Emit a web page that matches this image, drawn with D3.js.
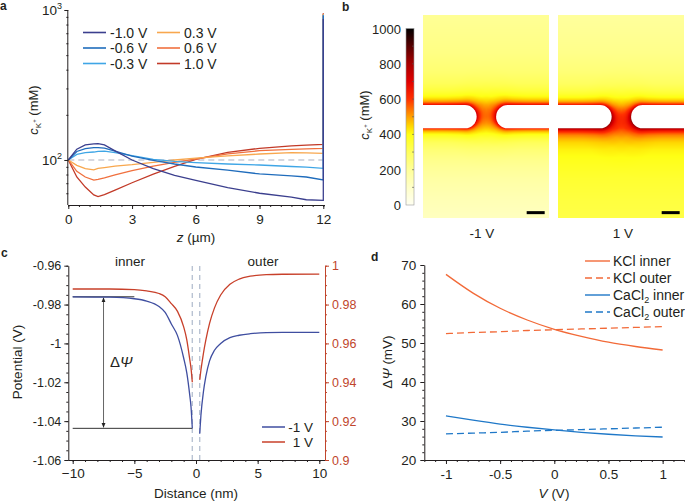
<!DOCTYPE html>
<html><head><meta charset="utf-8">
<script src="https://cdn.jsdelivr.net/npm/d3@7"></script>
<style>body{margin:0;background:#fff} svg{font-family:"Liberation Sans",Arial,sans-serif}</style>
</head><body><svg id="fig" width="685" height="501"></svg>
<script>
// ---------------- DATA ----------------
// Panel a: c_K+ (mM) along z (µm)
const voltagesA = ["-1.0 V","-0.6 V","-0.3 V","0.3 V","0.6 V","1.0 V"];
const zA = [0,0.4,0.8,1.2,1.4,1.7,2.2,3,4,5,6,7.5,9,10.5,11.2,12];
const cNeg10 = [100,118,126,128,128.5,126,115,100,87.5,79,73,65.5,60,56.6,54.3,53.8];
const cNeg06 = [100,114,119,121,121,120,114.5,106,99.5,94,89.8,85.6,80.7,78.4,77,73.6];
const cNeg03 = [100,109,112,113,114,114.5,112,107,101,98,96,94,92.6,90.5,89.5,88];
const cPos03 = [100,92,87.5,86,88,89,91,93,96.5,100,103,106.4,109.6,111.8,111.5,110.8];
const cPos06 = [100,84,77,73.4,74.3,76,79.5,85,91,96.5,101.5,109.8,115.3,117.6,118.5,119.6];
const cPos10 = [100,77,66,58.5,57,58.8,63,70.5,80.5,90.8,101,112.3,119.6,124.2,125.5,127];
const spikeTopA = [870,920,930,940,945,950]; // value at z = 12 wall
const seriesA = [cNeg10,cNeg06,cNeg03,cPos03,cPos06,cPos10];
const refLineA = 100;

// Panel b: concentration field (mM) near the pore
const panelLabelsB = ["-1 V","1 V"];
const colorbarTicks = [0,200,400,600,800,1000];
const bgAboveDist = [0,2,5,10,15,25];          // nm from upper membrane surface
const bgAbove = [[330,315,290,255,232,205],[320,305,280,245,222,192]];
const bgBelowDist = [0,3,8,14,20,25];          // nm from lower membrane surface
const bgBelow = [[300,270,220,175,140,118],[410,400,385,360,340,330]];
const excessDist = [0,0.5,1,1.5,2,3,4,6,9,14]; // nm from a membrane piece
const excessFrac = [1,0.72,0.52,0.4,0.31,0.2,0.13,0.06,0.02,0];
const excessAbove = [345,335];
const excessBelow = [325,385];
const poreDist = [0,2,4,6,9,13];               // nm from pore centre
const poreExtra = [80,70,45,20,5,0];

// Panel c: potential profiles
const legendC = ["-1 V","1 V"];
const xInner = [-10,-7,-5,-4,-3,-2.5,-2,-1.5,-1,-0.75,-0.5,-0.4,-0.3];
const negInner = [-0.9760,-0.9762,-0.9770,-0.9782,-0.9810,-0.9840,-0.9900,-0.9960,-1.0075,-1.0150,-1.0270,-1.0330,-1.0437];
const posInner = [0.9880,0.9880,0.9877,0.9870,0.9857,0.9840,0.9805,0.9765,0.9685,0.9620,0.9515,0.9470,0.9400];
const xOuter = [0.3,0.4,0.6,0.8,1.1,1.5,2,2.75,3.5,4.4,5.7,7,10];
const negOuter = [-1.0465,-1.0370,-1.0250,-1.0170,-1.0090,-1.0035,-1.0000,-0.9970,-0.9958,-0.9950,-0.9944,-0.9943,-0.9943];
const posOuter = [0.9412,0.9463,0.9548,0.9618,0.9703,0.9783,0.9849,0.9904,0.9931,0.9946,0.9954,0.9956,0.9957];
const poreWalls = [-0.3,0.3];
const deltaPsiTop = -0.976, deltaPsiBottom = -1.0437;

// Panel d: ΔΨ (mV) vs V
const vD = [-1,-0.75,-0.5,-0.25,0,0.25,0.5,0.75,1];
const kclInner = [67.6,62.8,58.9,55.9,53.5,51.7,50.2,49.1,48.2];
const kclOuter = [52.4,52.7,52.9,53.2,53.4,53.6,53.8,54.0,54.2];
const caInner = [31.3,30.2,29.2,28.4,27.7,27.1,26.6,26.2,25.9];
const caOuter = [26.7,26.9,27.1,27.4,27.6,27.8,28.0,28.2,28.4];

// ---------------- DRAW ----------------
const svg = d3.select("#fig");
const INK = "#231f20";
function styleAxis(g, color, fs){
  g.select(".domain").attr("stroke", color).attr("stroke-width",1);
  g.selectAll(".tick line").attr("stroke", color).attr("stroke-width",1);
  g.selectAll(".tick text").attr("fill", color).attr("font-size", fs).attr("font-family",'"Liberation Sans",Arial,sans-serif');
}
function minor(g, axisFn, scale, vals, size){
  const a = axisFn(scale).tickValues(vals).tickSize(size).tickFormat("");
  const m = svg.append("g").attr("transform", g.attr("transform")).call(a);
  m.select(".domain").remove();
  m.selectAll("line").attr("stroke", g.attr("data-c")||INK);
  return m;
}
function label(t, x, y, opts={}){
  return svg.append("text").attr("x",x).attr("y",y).attr("font-size",opts.fs||13)
    .attr("fill",opts.fill||INK).attr("text-anchor",opts.anchor||"start")
    .attr("font-weight",opts.fw||"normal").text(t);
}
// panel letters
label("a",0,10,{fw:"bold",fs:12});
label("b",342,11,{fw:"bold",fs:12});
label("c",1,257,{fw:"bold",fs:12});
label("d",371,261,{fw:"bold",fs:12});

// ===== Panel a =====
const xA = d3.scaleLinear([0,12],[68.3,323.3]);
const yA = d3.scaleLog([50.1,1000],[205,10]);
const colorsA = ["#3b3f8e","#1f6cbc","#3fa6e6","#f8a74e","#f0703e","#c23a28"];

svg.append("line").attr("x1",xA(0)).attr("x2",xA(12)).attr("y1",yA(refLineA)).attr("y2",yA(refLineA))
  .attr("stroke","#c9ccd6").attr("stroke-width",1.6).attr("stroke-dasharray","6,4");

const lineA = d3.line().x(d=>xA(d[0])).y(d=>yA(d[1]));
for (let k = seriesA.length-1; k >= 0; k--) {
  const pts = zA.map((z,i)=>[z, seriesA[k][i]]);
  pts.push([12, spikeTopA[k]]);
  svg.append("path").attr("d", lineA(pts)).attr("fill","none").attr("stroke",colorsA[k]).attr("stroke-width",1.3);
}
const gxA = svg.append("g").attr("transform","translate(0,205)")
  .call(d3.axisBottom(xA).tickValues([0,3,6,9,12]).tickSize(4).tickSizeOuter(0).tickPadding(5));
styleAxis(gxA, INK, 13.5);
gxA.select(".domain").attr("d","M68.3,0.5H325");
minor(gxA, d3.axisBottom, xA, d3.range(0,12.01,0.5), 2);
const gyA = svg.append("g").attr("transform","translate(68.3,0)")
  .call(d3.axisLeft(yA).tickValues([100,1000]).tickSize(4).tickSizeOuter(0).tickFormat(""));
styleAxis(gyA, INK, 13);
gyA.select(".domain").attr("d","M-0.5,10V205");
minor(gyA, d3.axisLeft, yA, [60,70,80,90,200,300,400,500,600,700,800,900], 2);
[[100,"2"],[1000,"3"]].forEach(([v,e])=>{
  const t = svg.append("text").attr("x",62).attr("y",yA(v)+5).attr("text-anchor","end").attr("font-size",13.5).attr("fill",INK);
  t.append("tspan").text("10");
  t.append("tspan").attr("dy",-6).attr("font-size",9).text(e);
});
// axis labels a
{
  const t = svg.append("text").attr("transform","translate(38,110) rotate(-90)").attr("text-anchor","middle").attr("font-size",13).attr("fill",INK);
  t.append("tspan").attr("font-style","italic").text("c");
  t.append("tspan").attr("dy",3).attr("font-size",8).text("K");
  t.append("tspan").attr("dy",-5).attr("font-size",6).text("+");
  t.append("tspan").attr("dy",2).text(" (mM)");
  const x = svg.append("text").attr("x",196).attr("y",242).attr("text-anchor","middle").attr("font-size",13.5).attr("fill",INK);
  x.append("tspan").attr("font-style","italic").text("z");
  x.append("tspan").text(" (µm)");
}
// legend a
voltagesA.forEach((v,i)=>{
  const col = Math.floor(i/3), row = i%3;
  const lx = col===0 ? 83 : 157, ly = 32.5 + row*15.5;
  svg.append("line").attr("x1",lx).attr("x2",lx+23).attr("y1",ly).attr("y2",ly).attr("stroke",colorsA[i]).attr("stroke-width",1.6);
  label(v, lx+27, ly+5, {fs:14});
});

// ===== Panel b =====
const cmapDomain = [0,100,200,300,400,450,500,550,600,700,800,900,1000];
const cmapColors = ["#fffff2","#ffffc8","#ffff98","#ffff5c","#ffff14","#ffd400","#ffa000","#ff6a00","#ff3000","#e00000","#a80000","#580000","#000000"];
const cmap = d3.scaleLinear(cmapDomain, cmapColors).clamp(true);
// colorbar
const yCB = d3.scaleLinear([0,1000],[205,28.5]);
const defs = svg.append("defs");
const grad = defs.append("linearGradient").attr("id","cbg").attr("x1",0).attr("x2",0).attr("y1",1).attr("y2",0);
d3.range(0,1001,50).forEach(v=>grad.append("stop").attr("offset",v/1000).attr("stop-color",cmap(v)));
svg.append("rect").attr("x",406).attr("y",yCB(1000)).attr("width",8).attr("height",yCB(0)-yCB(1000))
  .attr("fill","url(#cbg)").attr("stroke","#9a9a9a").attr("stroke-width",0.6);
d3.range(100,1000,100).forEach(v=>svg.append("line").attr("x1",412).attr("x2",414).attr("y1",yCB(v)).attr("y2",yCB(v)).attr("stroke","#555").attr("stroke-width",0.6));
colorbarTicks.forEach(v=>label(String(v),401,yCB(v)+5,{anchor:"end",fs:13}));
{
  const t = svg.append("text").attr("transform","translate(369,115) rotate(-90)").attr("text-anchor","middle").attr("font-size",13).attr("fill",INK);
  t.append("tspan").attr("font-style","italic").text("c");
  t.append("tspan").attr("dy",3).attr("font-size",8).text("K");
  t.append("tspan").attr("dy",-5).attr("font-size",6).text("+");
  t.append("tspan").attr("dy",2).text(" (mM)");
}
// field maps
const W_NM = 35, H_NM = 56.4, PX = 3.6;
const memTop = 25, memBot = 31.47, tipL = 14.9, startR = 20.3, R = (memBot-memTop)/2, cyM = (memTop+memBot)/2;
const poreCx = (tipL+startR)/2;
const panelX = [423, 558], panelY = 15;
const exS = d3.scaleLinear(excessDist, excessFrac).clamp(true);
const poreS = d3.scaleLinear(poreDist, poreExtra).clamp(true);
panelLabelsB.forEach((lab, p)=>{
  const sx = d3.scaleLinear([0,W_NM],[panelX[p], panelX[p]+W_NM*PX]);
  const sy = d3.scaleLinear([0,H_NM],[panelY, panelY+H_NM*PX]);
  const bgA = d3.scaleLinear(bgAboveDist, bgAbove[p]).clamp(true);
  const bgB = d3.scaleLinear(bgBelowDist, bgBelow[p]).clamp(true);
  const w = Math.round(W_NM*PX), h = Math.round(H_NM*PX);
  const cv = document.createElement("canvas"); cv.width = w; cv.height = h;
  const ctx = cv.getContext("2d"); const img = ctx.createImageData(w,h);
  for (let j=0;j<h;j++) for (let i=0;i<w;i++){
    const x = (i+0.5)/PX, y = (j+0.5)/PX;
    const cl = tipL - R, cr = startR + R;
    const dL = Math.max(0, (x<=cl ? Math.abs(y-cyM) : Math.hypot(x-cl,y-cyM)) - R);
    const dR = Math.max(0, (x>=cr ? Math.abs(y-cyM) : Math.hypot(x-cr,y-cyM)) - R);
    let bg, A;
    if (y < memTop) { bg = bgA(memTop-y); A = excessAbove[p]; }
    else if (y > memBot) { bg = bgB(y-memBot); A = excessBelow[p]; }
    else { const f = (y-memTop)/(memBot-memTop); bg = bgAbove[p][0]*(1-f)+bgBelow[p][0]*f; A = excessAbove[p]*(1-f)+excessBelow[p]*f; }
    const c = bg + A*(exS(dL)+exS(dR)) + poreS(Math.hypot(x-poreCx, y-cyM));
    const col = d3.rgb(cmap(c)); const o = (j*w+i)*4;
    img.data[o]=col.r; img.data[o+1]=col.g; img.data[o+2]=col.b; img.data[o+3]=255;
  }
  ctx.putImageData(img,0,0);
  svg.append("image").attr("x",sx(0)).attr("y",sy(0)).attr("width",w).attr("height",h).attr("href",cv.toDataURL());
  // membrane pieces
  const yt = sy(memTop), yb = sy(memBot), r = (yb-yt)/2;
  svg.append("path").attr("fill","#fff")
    .attr("d",`M${sx(0)-1},${yt}H${sx(tipL)-r}A${r},${r} 0 0 1 ${sx(tipL)-r},${yb}H${sx(0)-1}Z`);
  svg.append("path").attr("fill","#fff")
    .attr("d",`M${sx(W_NM)+1},${yt}H${sx(startR)+r}A${r},${r} 0 0 0 ${sx(startR)+r},${yb}H${sx(W_NM)+1}Z`);
  // 5 nm scale bar
  svg.append("rect").attr("x",sx(W_NM-1.2-5)).attr("y",sy(54.9)-1.5).attr("width",sx(5)-sx(0)).attr("height",3).attr("fill","#000");
  label(lab, sx(W_NM/2)+(p===0?-4:2), 238, {anchor:"middle",fs:13.5});
});

// ===== Panel c =====
const xC = d3.scaleLinear([-10,10],[72.7,319.3]);
const yCL = d3.scaleLinear([-1.06,-0.96],[460,265.7]);
const yCR = d3.scaleLinear([0.9,1],[460,265.7]);
const blueC = "#3f4ea0", redC = "#c8402a", axRed = "#c0452c";
poreWalls.forEach(w=>svg.append("line").attr("x1",xC(w)).attr("x2",xC(w)).attr("y1",266).attr("y2",460)
  .attr("stroke","#b9c3d3").attr("stroke-width",1.4).attr("stroke-dasharray","5,4"));
const lineCL = d3.line().x(d=>xC(d[0])).y(d=>yCL(d[1])).curve(d3.curveMonotoneX);
const lineCR = d3.line().x(d=>xC(d[0])).y(d=>yCR(d[1])).curve(d3.curveMonotoneX);
// annotation lines
svg.append("line").attr("x1",xC(-10)).attr("x2",xC(-5)).attr("y1",yCL(deltaPsiTop)).attr("y2",yCL(deltaPsiTop)).attr("stroke","#333").attr("stroke-width",1);
svg.append("line").attr("x1",xC(-10)).attr("x2",xC(-0.3)).attr("y1",yCL(deltaPsiBottom)).attr("y2",yCL(deltaPsiBottom)).attr("stroke","#333").attr("stroke-width",1);
defs.append("marker").attr("id","ah").attr("viewBox","0 0 10 10").attr("refX",9).attr("refY",5).attr("markerWidth",5).attr("markerHeight",5).attr("orient","auto-start-reverse")
  .append("path").attr("d","M0,1L10,5L0,9Z").attr("fill","#222");
svg.append("line").attr("x1",xC(-7.5)).attr("x2",xC(-7.5)).attr("y1",yCL(deltaPsiTop)+1).attr("y2",yCL(deltaPsiBottom)-1)
  .attr("stroke","#666").attr("stroke-width",1).attr("marker-start","url(#ah)").attr("marker-end","url(#ah)");
{
  const t = svg.append("text").attr("x",110).attr("y",367).attr("font-size",15).attr("fill",INK);
  t.append("tspan").text("Δ");
  t.append("tspan").attr("font-style","italic").text("Ψ");
}
svg.append("path").attr("d",lineCR(xInner.map((x,i)=>[x,posInner[i]]))).attr("fill","none").attr("stroke",redC).attr("stroke-width",1.3);
svg.append("path").attr("d",lineCR(xOuter.map((x,i)=>[x,posOuter[i]]))).attr("fill","none").attr("stroke",redC).attr("stroke-width",1.3);
svg.append("path").attr("d",lineCL(xInner.map((x,i)=>[x,negInner[i]]))).attr("fill","none").attr("stroke",blueC).attr("stroke-width",1.3);
svg.append("path").attr("d",lineCL(xOuter.map((x,i)=>[x,negOuter[i]]))).attr("fill","none").attr("stroke",blueC).attr("stroke-width",1.3);

const gxC = svg.append("g").attr("transform","translate(0,460)")
  .call(d3.axisBottom(xC).tickValues([-10,-5,0,5,10]).tickSize(4).tickSizeOuter(0).tickPadding(4));
styleAxis(gxC, INK, 13.5);
gxC.select(".domain").attr("d","M68.3,0.5H325");
minor(gxC, d3.axisBottom, xC, d3.range(-10,10.01,1), 2);
const fmt = d=>String(+d.toFixed(2));
const gyCL = svg.append("g").attr("transform","translate(68.3,0)")
  .call(d3.axisLeft(yCL).tickValues([-1.06,-1.04,-1.02,-1,-0.98,-0.96]).tickFormat(fmt).tickSize(4).tickSizeOuter(0).tickPadding(3));
styleAxis(gyCL, INK, 12.5);
minor(gyCL, d3.axisLeft, yCL, d3.range(-1.06,-0.9599,0.005), 2);
const gyCR = svg.append("g").attr("transform","translate(325,0)").attr("data-c",axRed)
  .call(d3.axisRight(yCR).tickValues([0.9,0.92,0.94,0.96,0.98,1]).tickFormat(fmt).tickSize(4).tickSizeOuter(0).tickPadding(3));
styleAxis(gyCR, axRed, 12.5);
minor(gyCR, d3.axisRight, yCR, d3.range(0.9,1.0001,0.005), 2);
label("inner",130,266,{anchor:"middle",fs:13.5});
label("outer",263,266,{anchor:"middle",fs:13.5});
svg.append("text").attr("transform","translate(22,362) rotate(-90)").attr("text-anchor","middle").attr("font-size",13.5).attr("fill",INK).text("Potential (V)");
label("Distance (nm)",196,498,{anchor:"middle",fs:13.5});
[[blueC,"-1 V",427],[redC,"1 V",442]].forEach(([c,t,y])=>{
  svg.append("line").attr("x1",262).attr("x2",285).attr("y1",y).attr("y2",y).attr("stroke",c).attr("stroke-width",1.5);
  label(t,313,y+5,{anchor:"end",fs:13.5});
});

// ===== Panel d =====
const xD = d3.scaleLinear([-1.2,1.2],[424.3,684.3]);
const yD = d3.scaleLinear([20,70],[460,265]);
const orangeD = "#f26a38", blueD = "#1f78c8";
const lineD = d3.line().x(d=>xD(d[0])).y(d=>yD(d[1])).curve(d3.curveMonotoneX);
const dSeries = [[kclInner,orangeD,null],[kclOuter,orangeD,"7,4"],[caInner,blueD,null],[caOuter,blueD,"7,4"]];
dSeries.forEach(([vals,c,dash])=>{
  svg.append("path").attr("d",lineD(vD.map((v,i)=>[v,vals[i]]))).attr("fill","none").attr("stroke",c).attr("stroke-width",1.3).attr("stroke-dasharray",dash);
});
const gxD = svg.append("g").attr("transform","translate(0,460)")
  .call(d3.axisBottom(xD).tickValues([-1,-0.5,0,0.5,1]).tickFormat(d=>String(d)).tickSize(4).tickSizeOuter(0).tickPadding(5));
styleAxis(gxD, INK, 13.5);
minor(gxD, d3.axisBottom, xD, d3.range(-1.2,1.2001,0.1), 2);
const gyD = svg.append("g").attr("transform","translate(424.3,0)")
  .call(d3.axisLeft(yD).tickValues([20,30,40,50,60,70]).tickSize(4).tickSizeOuter(0).tickPadding(4));
styleAxis(gyD, INK, 13.5);
minor(gyD, d3.axisLeft, yD, d3.range(20,70.01,2), 2);
{
  const t = svg.append("text").attr("transform","translate(392,362) rotate(-90)").attr("text-anchor","middle").attr("font-size",13.5).attr("fill",INK);
  t.append("tspan").text("Δ");
  t.append("tspan").attr("font-style","italic").text("Ψ");
  t.append("tspan").text(" (mV)");
  const x = svg.append("text").attr("x",554).attr("y",498).attr("text-anchor","middle").attr("font-size",13.5).attr("fill",INK);
  x.append("tspan").attr("font-style","italic").text("V");
  x.append("tspan").text(" (V)");
}
const legD = [["KCl inner",orangeD,null,""],["KCl outer",orangeD,"7,4",""],["CaCl",blueD,null," inner"],["CaCl",blueD,"7,4"," outer"]];
legD.forEach(([t,c,dash,suf],i)=>{
  const y = 261 + i*17;
  svg.append("line").attr("x1",585).attr("x2",610).attr("y1",y).attr("y2",y).attr("stroke",c).attr("stroke-width",1.4).attr("stroke-dasharray",dash);
  const tx = svg.append("text").attr("x",613).attr("y",y+5).attr("font-size",14).attr("fill",INK);
  tx.append("tspan").text(t);
  if (suf) { tx.append("tspan").attr("dy",3).attr("font-size",9).text("2"); tx.append("tspan").attr("dy",-3).text(suf); }
});
</script></body></html>
